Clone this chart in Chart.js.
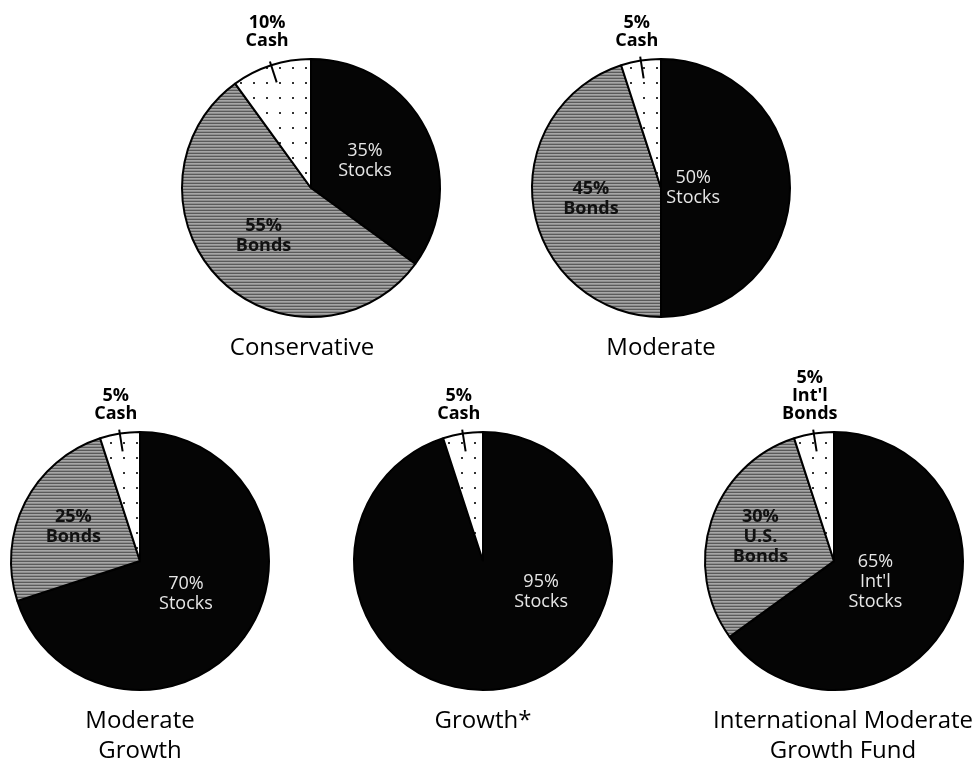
<!DOCTYPE html>
<html>
<head>
<meta charset="utf-8">
<script src="https://cdn.jsdelivr.net/npm/chart.js@4.4.0/dist/chart.umd.min.js"></script>
<style>
    html, body { margin: 0; padding: 0; background: #fff; overflow: hidden; }
    #stage { position: relative; width: 977px; height: 767px; }
    #stage canvas { position: absolute; left: 0; top: 0; }
</style>
</head>
<body>
<div id="stage"></div>
<script>
// allocation of each portfolio, in percent, clockwise from 12 o'clock
const conservativeMix = [35, 55, 10];
const moderateMix = [50, 45, 5];
const moderateGrowthMix = [70, 25, 5];
const growthMix = [95, 5];
const intlMix = [65, 30, 5];

const assetNames = ["Stocks", "Bonds", "Cash"];
const growthNames = ["Stocks", "Cash"];
const intlNames = ["Int'l Stocks", "U.S. Bonds", "Int'l Bonds"];

const titles = [["Conservative"], ["Moderate"], ["Moderate", "Growth"], ["Growth*"], ["International Moderate", "Growth Fund"]];

const W = 977, H = 767;
const FONT = '"Open Sans", "Noto Sans", sans-serif';

const pies = [
    { values: conservativeMix, names: assetNames, kinds: ["stocks", "bonds", "cash"], cx: 311, cy: 188, r: 130, titleDx: -9, place: [{ r: 0.47 }, { r: 0.52 }] },
    { values: moderateMix, names: assetNames, kinds: ["stocks", "bonds", "cash"], cx: 661, cy: 188, r: 130, titleDx: 0, place: [{ r: 0.25 }, { r: 0.55 }] },
    { values: moderateGrowthMix, names: assetNames, kinds: ["stocks", "bonds", "cash"], cx: 140, cy: 561, r: 130, titleDx: 0, place: [{ r: 0.44 }, { r: 0.58 }] },
    { values: growthMix, names: growthNames, kinds: ["stocks", "cash"], cx: 483, cy: 561, r: 130, titleDx: 0, place: [{ r: 0.51, deg: 118 }] },
    { values: intlMix, names: intlNames, kinds: ["stocks", "bonds", "cash"], cx: 834, cy: 561, r: 130, titleDx: 9, place: [{ r: 0.36 }, { r: 0.6 }] }
];

function makeStripes() {
    const c = document.createElement("canvas");
    c.width = 4; c.height = 3;
    const g = c.getContext("2d");
    ["#5a5a5a", "#a6a6a6", "#8e8e8e"].forEach((col, i) => { g.fillStyle = col; g.fillRect(0, i, 4, 1); });
    return g.createPattern(c, "repeat");
}

function makeDots() {
    const c = document.createElement("canvas");
    c.width = 13; c.height = 15;
    const g = c.getContext("2d");
    g.fillStyle = "#fff";
    g.fillRect(0, 0, 13, 15);
    g.fillStyle = "#333";
    g.fillRect(6, 7, 2, 2);
    return g.createPattern(c, "repeat");
}

const fills = { stocks: "#050505", bonds: makeStripes(), cash: makeDots() };
const textColors = { stocks: "#e6e6e6", bonds: "#111" };

const sliceText = {
    id: "sliceText",
    afterDatasetsDraw(chart, args, o) {
        const ctx = chart.ctx;
        const arcs = chart.getDatasetMeta(0).data;
        const values = chart.data.datasets[0].data;
        const names = chart.data.labels;
        const { x: cx, y: cy, outerRadius: r } = arcs[0];
        ctx.save();
        ctx.textAlign = "center";
        arcs.forEach((arc, i) => {
            const lines = [values[i] + "%", ...names[i].split(" ")];
            const mid = (arc.startAngle + arc.endAngle) / 2;
            if (i === arcs.length - 1) {
                // small slice: label above the pie with a tick through the rim
                const cos = Math.cos(mid), sin = Math.sin(mid);
                ctx.strokeStyle = "#000";
                ctx.lineWidth = 2;
                ctx.beginPath();
                ctx.moveTo(cx + cos * (r + 4), cy + sin * (r + 4));
                ctx.lineTo(cx + cos * (r - 18), cy + sin * (r - 18));
                ctx.stroke();
                const tx = cx + cos * r - 4;
                const lastY = cy - r - 18;
                ctx.fillStyle = "#000";
                ctx.font = `bold 18px ${FONT}`;
                ctx.textBaseline = "middle";
                lines.forEach((line, k) => ctx.fillText(line, tx, lastY - (lines.length - 1 - k) * 18));
            } else {
                const p = o.place[i] || {};
                const a = p.deg != null ? p.deg * Math.PI / 180 - Math.PI / 2 : mid;
                const rr = (p.r ?? 0.5) * r;
                const x = cx + Math.cos(a) * rr, y = cy + Math.sin(a) * rr;
                const kind = o.kinds[i];
                ctx.fillStyle = textColors[kind];
                ctx.font = `${kind === "bonds" ? "bold " : ""}18px ${FONT}`;
                ctx.textBaseline = "middle";
                const top = y - (lines.length - 1) * 10;
                lines.forEach((line, k) => ctx.fillText(line, x, top + k * 20));
            }
        });
        ctx.fillStyle = "#000";
        ctx.font = `500 24px ${FONT}`;
        ctx.textBaseline = "alphabetic";
        o.title.forEach((line, k) => ctx.fillText(line, cx + o.titleDx, cy + r + 38 + k * 30));
        ctx.restore();
    }
};

const stage = document.getElementById("stage");
pies.forEach((pie, n) => {
    const canvas = document.createElement("canvas");
    canvas.width = W;
    canvas.height = H;
    stage.appendChild(canvas);
    new Chart(canvas, {
        type: "pie",
        data: {
            labels: pie.names,
            datasets: [{
                data: pie.values,
                backgroundColor: pie.kinds.map(k => fills[k]),
                borderColor: "#000",
                borderWidth: 2
            }]
        },
        options: {
            responsive: false,
            animation: false,
            events: [],
            layout: { padding: { left: pie.cx - pie.r, right: W - pie.cx - pie.r, top: pie.cy - pie.r, bottom: H - pie.cy - pie.r } },
            plugins: {
                legend: { display: false },
                tooltip: { enabled: false },
                sliceText: { title: titles[n], titleDx: pie.titleDx, place: pie.place, kinds: pie.kinds }
            }
        },
        plugins: [sliceText]
    });
});
</script>
</body>
</html>
